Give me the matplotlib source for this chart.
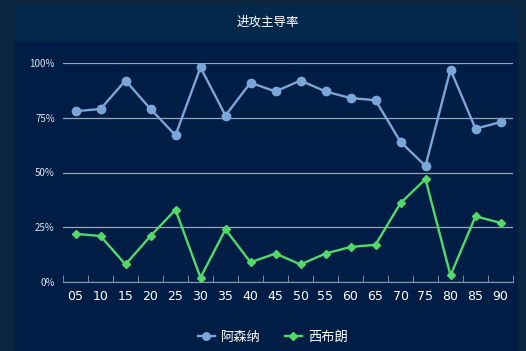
import matplotlib.pyplot as plt
from matplotlib.patches import Rectangle
from matplotlib.ticker import FuncFormatter

plt.rcParams['font.family'] = ['Noto Sans CJK SC', 'DejaVu Sans']

minutes = ['05', '10', '15', '20', '25', '30', '35', '40', '45',
           '50', '55', '60', '65', '70', '75', '80', '85', '90']
arsenal = [78, 79, 92, 79, 67, 98, 76, 91, 87, 92, 87, 84, 83, 64, 53, 97, 70, 73]
brighton = [22, 21, 8, 21, 33, 2, 24, 9, 13, 8, 13, 16, 17, 36, 47, 3, 30, 27]

W, H = 526, 351
fig = plt.figure(figsize=(W / 100, H / 100), dpi=100)
fig.patch.set_facecolor('#0b2540')

# inner panel and title band
fig.patches.append(Rectangle((15 / W, 0), 503 / W, 1 - 4 / H, transform=fig.transFigure,
                             facecolor='#001d45', edgecolor='none', zorder=-2))
fig.patches.append(Rectangle((15 / W, 1 - 42 / H), 503 / W, 38 / H, transform=fig.transFigure,
                             facecolor='#03284a', edgecolor='none', zorder=-1))
fig.text(268 / W, 1 - 22 / H, '进攻主导率', color='white', fontsize=9, ha='center', va='center')

ax = fig.add_axes([63 / W, 1 - 282 / H, 450 / W, 219 / H])
ax.set_zorder(2)
ax.set_facecolor('none')

x = list(range(len(minutes)))
ax.plot(x, arsenal, color='#7aa6d8', lw=1.7, marker='o', ms=6, label='阿森纳', zorder=3)
ax.plot(x, brighton, color='#55d86a', lw=1.7, marker='D', ms=4.5, label='西布朗', zorder=3)

ax.set_xlim(-0.5, len(minutes) - 0.5)
ax.set_ylim(0, 100)
ax.set_yticks([0, 25, 50, 75, 100])
ax.yaxis.set_major_formatter(FuncFormatter(lambda v, p: f'{v:.0f}%'))
ax.set_xticks(x)
ax.set_xticklabels(minutes)
ax.set_xticks([i - 0.5 for i in range(len(minutes) + 1)], minor=True)
ax.tick_params(axis='x', which='major', length=0, colors='white', labelsize=9, pad=6)
ax.tick_params(axis='x', which='minor', length=5, color='#8a9bb0', direction='in')
ax.tick_params(axis='y', length=0, colors='#dfe6f0', labelsize=7, pad=6)
for lab in ax.get_xticklabels():
    lab.set_family('DejaVu Sans')

ax.grid(axis='y', color='#9aa6b4', lw=0.9)
ax.set_axisbelow(True)
for s in ['top', 'right', 'left']:
    ax.spines[s].set_visible(False)
ax.spines['bottom'].set_color('#8a9bb0')

leg = fig.legend(loc='center', bbox_to_anchor=(273 / W, 1 - 337 / H), ncol=2, frameon=False,
                 fontsize=9.5, handlelength=1.3, handletextpad=0.5, columnspacing=1.8,
                 labelcolor='white', markerscale=0.9)

fig.savefig('out.png', dpi=100, facecolor=fig.get_facecolor())
